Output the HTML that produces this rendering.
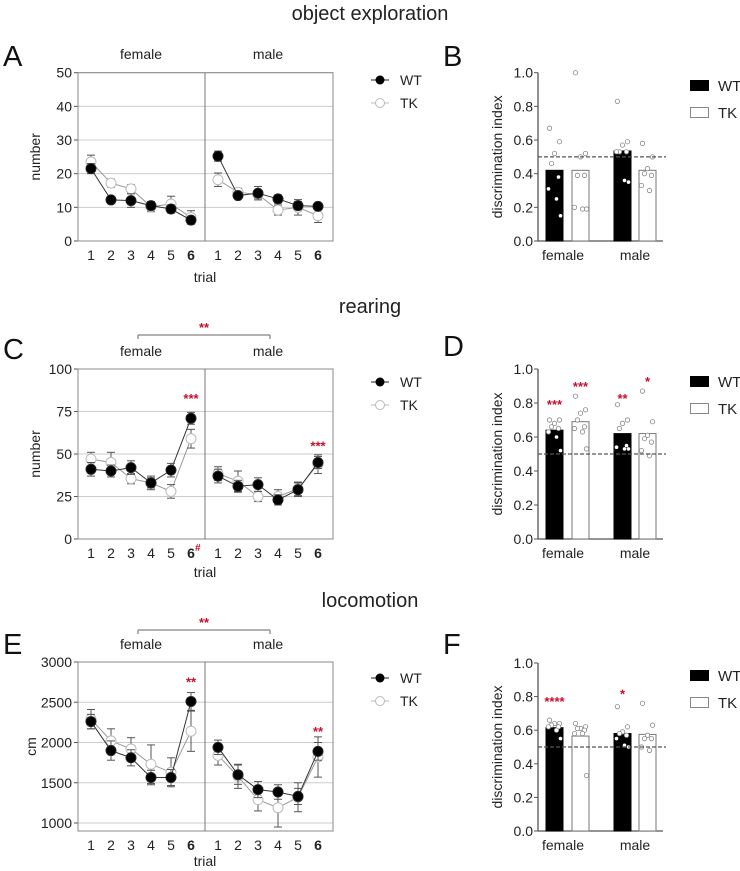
<!DOCTYPE html>
<html><head><meta charset="utf-8"><style>
body{margin:0;background:#fff;width:740px;height:871px;overflow:hidden}
svg{display:block;font-family:"Liberation Sans",sans-serif}
</style></head><body>
<svg id="fig" width="740" height="871"></svg>
<script>
const trials=["1","2","3","4","5","6"];
const aWTf=[21.5,12.2,12,10.5,9.5,6.2], aTKf=[23.5,17.2,15.5,10.2,11,7];
const aWTm=[25.2,13.5,14.2,12.5,10.5,10.3], aTKm=[18.2,14.5,13.8,9.2,10,7.5];
const aErrWT=[1.5,0.8,2,1.2,1.2,1], aErrTK=[2,1.2,1.2,1.5,2.3,2];
const cWTf=[41,40,42,33,40.5,71], cTKf=[47,45,35.5,33,28,59];
const cWTm=[37,31,32,23,29,45], cTKm=[38.5,34,25,25,29.5,44];
const cErrWT=[4,3.5,4,3,4,3.5], cErrTK=[4,6,3,4,4,5.5];
const eWTf=[2260,1900,1810,1565,1565,2510], eTKf=[2290,2020,1920,1730,1630,2140];
const eWTm=[1940,1600,1415,1385,1330,1890], eTKm=[1840,1580,1290,1190,1320,1820];
const eErrWT=[90,120,100,90,100,110], eErrTK=[120,150,140,240,180,250];
const groups=["female","male"];
const bBars=[0.42,0.42,0.535,0.42];
const bPts=[[0.67,0.59,0.52,0.46,0.38,0.31,0.25,0.15],[1.0,0.52,0.5,0.39,0.39,0.2,0.19,0.19],[0.83,0.59,0.57,0.53,0.53,0.53,0.36,0.35],[0.58,0.5,0.43,0.4,0.39,0.33,0.3]];
const dBars=[0.64,0.69,0.62,0.62];
const dPts=[[0.70,0.70,0.68,0.66,0.65,0.63,0.60,0.52],[0.84,0.76,0.74,0.70,0.66,0.65,0.63,0.53],[0.79,0.70,0.68,0.65,0.55,0.54,0.53,0.53],[0.87,0.69,0.61,0.59,0.57,0.52,0.49]];
const fBars=[0.615,0.565,0.58,0.575];
const fPts=[[0.66,0.64,0.64,0.63,0.62,0.62,0.6,0.55],[0.64,0.62,0.61,0.61,0.6,0.58,0.58,0.33],[0.74,0.62,0.59,0.58,0.57,0.55,0.51,0.5],[0.76,0.63,0.57,0.55,0.55,0.5,0.48]];
const biTicks=["0.0","0.2","0.4","0.6","0.8","1.0"];

const S=document.getElementById('fig');const NS="http://www.w3.org/2000/svg";
function el(t,a,txt){const e=document.createElementNS(NS,t);for(const k in a)e.setAttribute(k,a[k]);if(txt!==undefined)e.textContent=txt;S.appendChild(e);return e;}
function T(x,y,s,size,name,extra){const e=el('text',Object.assign({x:x,y:y,'font-size':size,fill:'#222'},extra||{}),s);

return e;}
function L(x1,y1,x2,y2,st,w,name,dash){const e=el('line',{x1,y1,x2,y2,stroke:st,'stroke-width':w||1});if(dash)e.setAttribute('stroke-dasharray',dash);

return e;}

function linePanel(o){
 const x0=78,x1=333,xd=205,yT=o.yTop,yB=o.yBot;
 const ys=v=>yB-(v-o.ymin)/(o.ymax-o.ymin)*(o.y1-yT)-(yB-o.y1);
 // gridlines
 o.ticks.forEach(t=>{const y=ys(t);if(t!==o.ticks[0]||o.axisBottom)L(x0,y,x1,y,'#ccc',1,'gridline');
  L(x0-4,y,x0,y,'#555',1,'y-tick');T(x0-6,y+5,String(t),14,'y-tick-label',{'text-anchor':'end'});});
 const fr=el('rect',{x:x0,y:yT,width:x1-x0,height:yB-yT,fill:'none',stroke:'#888'});
 
 
 L(xd,yT,xd,yB,'#777',1,'sex-divider');
 const xs=(i,g)=>(g?218:91)+i*20;
 trials.forEach((t,i)=>{[0,1].forEach(g=>{T(xs(i,g),yB+19,t,14,'x-tick-label',{'text-anchor':'middle','font-weight':i==5?'bold':'normal'});});});
 T(205,o.yTrial,'trial',14,'x-axis-title',{'text-anchor':'middle'});
 T(141,o.ySex,'female',14,'group-label-female',{'text-anchor':'middle'});
 T(268,o.ySex,'male',14,'group-label-male',{'text-anchor':'middle'});
 const yl=T(0,0,o.ylab,14,'y-axis-title',{'text-anchor':'middle',transform:`translate(${o.ylx},${(yT+yB)/2}) rotate(-90)`});
 const ser=[[o.TKf,o.TKm,o.eTK,'#bbb','#fff','tk'],[o.WTf,o.WTm,o.eWT,'#222','#000','wt']];
 ser.forEach(([f,m,er,st,fill,n])=>{[f,m].forEach((d,g)=>{
  const p=el('polyline',{points:d.map((v,i)=>xs(i,g)+','+ys(v)).join(' '),fill:'none',stroke:n=='wt'?'#333':'#999','stroke-width':1});
  
  
  d.forEach((v,i)=>{const x=xs(i,g);const a=ys(v+er[i]),b=ys(v-er[i]);
   L(x,a,x,b,'#555',1,'error-bar');L(x-4,a,x+4,a,'#555',1,'error-cap');L(x-4,b,x+4,b,'#555',1,'error-cap');
   const c=el('circle',{cx:x,cy:ys(v),r:5,fill:fill,stroke:st,'stroke-width':1});
   
   });
 });});
 // legend
 const ly=o.legY;
 L(371,ly,389,ly,'#222',1,'legend-wt-line');const c1=el('circle',{cx:380,cy:ly,r:4.5,fill:'#000'});
 
 
 T(400,ly+5,'WT',14,'legend-wt');
 L(371,ly+23,389,ly+23,'#bbb',1,'legend-tk-line');const c2=el('circle',{cx:380,cy:ly+23,r:4.5,fill:'#fff',stroke:'#bbb'});
 
 
 T(400,ly+28,'TK',14,'legend-tk');
 (o.stars||[]).forEach(s=>T(xs(5,s[0]),ys(s[1]),s[2],13,'significance-stars',{'text-anchor':'middle',fill:'#c8102e','font-weight':'bold'}));
}

function barPanel(o){
 const ax=538,yT=o.yTop,yB=o.yBot;const ys=v=>yB-v*(yB-yT);
 L(ax,yT,ax,yB,'#555',1.3,'y-axis');L(ax,yB,663,yB,'#555',1.3,'x-axis');
 biTicks.forEach(t=>{const y=ys(+t);L(ax-4,y,ax,y,'#555',1,'y-tick');T(ax-5,y+5,t,14,'y-tick-label',{'text-anchor':'end'});});
 T(0,0,'discrimination index',14,'y-axis-title',{'text-anchor':'middle',transform:`translate(502,${(yT+yB)/2}) rotate(-90)`});
 const bx=[546,572,614,639];
 o.bars.forEach((v,i)=>{const wt=i%2==0;const r=el('rect',{x:bx[i],y:ys(v),width:17,height:yB-ys(v),fill:wt?'#000':'#fff',stroke:wt?'#000':'#777'});
  
  
  o.pts[i].forEach((p,j)=>{const jx=[-5,5,0,-3,4,-6,2,6][j%8];const inside=wt&&p<v-0.015;
   const c=el('circle',{cx:bx[i]+8.5+jx,cy:ys(p),r:inside?1.8:2.2,fill:inside?'#fff':'#fff',stroke:inside?'none':'#888','stroke-width':0.8});
   
   });});
 L(ax,ys(0.5),666,ys(0.5),'#555',1.2,'chance-line','4,2');
 T(563,yB+19,'female',14,'x-label-female',{'text-anchor':'middle'});
 T(635,yB+19,'male',14,'x-label-male',{'text-anchor':'middle'});
 const lr=el('rect',{x:690,y:o.legY,width:19,height:11,fill:'#000'});
 T(718,o.legY+11,'WT',15,'legend-wt');
 const lr2=el('rect',{x:690.5,y:o.legY+27.5,width:18,height:10,fill:'#fff',stroke:'#888'});
 T(718,o.legY+38,'TK',15,'legend-tk');
 (o.stars||[]).forEach(s=>T(bx[s[0]]+8.5,ys(s[1]),s[2],13,'significance-stars',{'text-anchor':'middle',fill:'#c8102e','font-weight':'bold'}));
}

T(370,20,'object exploration',20,'title-object-exploration',{'text-anchor':'middle'});
T(370,313,'rearing',20,'title-rearing',{'text-anchor':'middle'});
T(370,607,'locomotion',20,'title-locomotion',{'text-anchor':'middle'});
[['A',3,66],['C',3,359],['E',3,654],['B',443,66],['D',443,356],['F',443,654]].forEach(p=>T(p[1],p[2],p[0],29,'panel-label-'+p[0].toLowerCase(),{fill:'#111'}));

linePanel({yTop:72.7,yBot:241,y1:241,ymin:0,ymax:50,ticks:[0,10,20,30,40,50],ylab:'number',ylx:40,ySex:59,yTrial:282,legY:80,
 WTf:aWTf,TKf:aTKf,WTm:aWTm,TKm:aTKm,eWT:aErrWT,eTK:aErrTK});
linePanel({yTop:369,yBot:539,y1:539,ymin:0,ymax:100,ticks:[0,25,50,75,100],ylab:'number',ylx:40,ySex:356,yTrial:577,legY:382,
 WTf:cWTf,TKf:cTKf,WTm:cWTm,TKm:cTKm,eWT:cErrWT,eTK:cErrTK,stars:[[0,80,'***'],[1,52,'***']]});
T(195,532+19,'#',10,'hash-mark',{fill:'#c8102e','font-weight':'bold'});
linePanel({yTop:662,yBot:831,y1:823,ymin:1000,ymax:3000,ticks:[1000,1500,2000,2500,3000],ylab:'cm',ylx:36,ySex:649,yTrial:866,legY:678,axisBottom:1,
 WTf:eWTf,TKf:eTKf,WTm:eWTm,TKm:eTKm,eWT:eErrWT,eTK:eErrTK,stars:[[0,2695,'**'],[1,2080,'**']]});
[[335,327],[630,622]].forEach(b=>{L(138,b[0],270,b[0],'#666',1,'group-bracket');L(138,b[0],138,b[0]+4,'#666',1,'bracket-end');L(270,b[0],270,b[0]+4,'#666',1,'bracket-end');
 T(204,b[1]+5,'**',13,'bracket-stars',{'text-anchor':'middle',fill:'#c8102e','font-weight':'bold'});});

barPanel({yTop:72.7,yBot:241,bars:bBars,pts:bPts,legY:80});
barPanel({yTop:369,yBot:539,bars:dBars,pts:dPts,legY:376,stars:[[0,0.765,'***'],[1,0.87,'***'],[2,0.8,'**'],[3,0.9,'*']]});
barPanel({yTop:663,yBot:831,bars:fBars,pts:fPts,legY:670,stars:[[0,0.745,'****'],[2,0.79,'*']]});
</script>
</body></html>
